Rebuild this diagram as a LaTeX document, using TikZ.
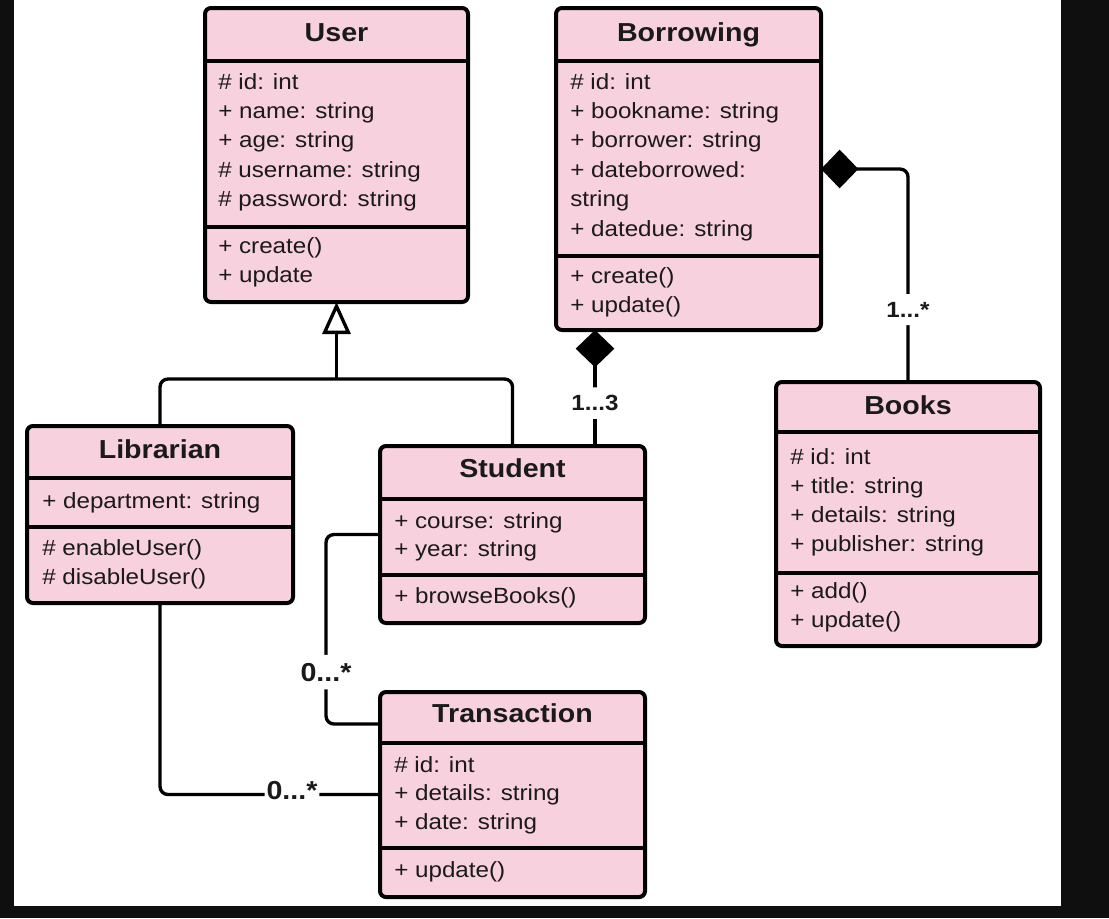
\documentclass[tikz,border=0pt]{standalone}
\usepackage{fontspec}
\setmainfont{Liberation Sans}[FakeStretch=1.1]
\usetikzlibrary{arrows.meta,fit,calc}
\definecolor{umlpink}{RGB}{248,209,222}
\definecolor{framedark}{RGB}{15,15,15}
\definecolor{ink}{RGB}{26,26,26}
\tikzset{
  classbox/.style={draw=black, fill=umlpink, line width=3pt, rounded corners=4.5pt, inner sep=0pt, outer sep=0pt},
  divider/.style={draw=black, line width=3pt},
  txt/.style={anchor=base west, inner sep=0pt, text=ink, font=\fontsize{16.5}{20}\selectfont},
  ctitle/.style={anchor=base, inner sep=0pt, text=ink, font=\fontsize{19.5}{24}\selectfont\bfseries},
  conn/.style={draw=black, line width=2.5pt, rounded corners=6pt},
  mult/.style={fill=white, text=ink, inner xsep=1.5pt, inner ysep=6pt, font=\fontsize{16.5}{20}\selectfont\bfseries},
  multbig/.style={mult, font=\fontsize{19.5}{24}\selectfont\bfseries},
  comp/.style={conn, {Diamond[length=28pt,width=29pt]}-},
  gen/.style={conn, -{Triangle[open,length=24pt,width=21pt]}},
}
\newcommand\clines[5]{\foreach \t [count=\i] in {#5}{\node[txt] (#1\i) at (#2,{#3+#4*(\i-1)}) {\t};}}
\begin{document}
\begin{tikzpicture}[x=0.75pt,y=-0.75pt]
\useasboundingbox (0,0) rectangle (1109,918);
\fill[framedark] (0,0) rectangle (1109,918);
\fill[white] (14,0) rectangle (1061,906);

% ---------- class boxes ----------
\node[classbox, fit={(205,8) (468,302)}] (user) {};
\node[classbox, fit={(556,8) (821,330)}] (bor) {};
\node[classbox, fit={(27,426) (293,603)}] (lib) {};
\node[classbox, fit={(380,446) (645,623)}] (stu) {};
\node[classbox, fit={(380,692) (645,897)}] (tr) {};
\node[classbox, fit={(776,382) (1040,646)}] (books) {};

% dividers
\draw[divider] (205,61) -- (468,61);
\draw[divider] (205,227) -- (468,227);
\draw[divider] (556,61) -- (821,61);
\draw[divider] (556,256) -- (821,256);
\draw[divider] (27,478) -- (293,478);
\draw[divider] (27,527) -- (293,527);
\draw[divider] (380,499) -- (645,499);
\draw[divider] (380,575) -- (645,575);
\draw[divider] (380,743) -- (645,743);
\draw[divider] (380,848) -- (645,848);
\draw[divider] (776,432) -- (1040,432);
\draw[divider] (776,573) -- (1040,573);

% titles
\node[ctitle] (user-t) at (336.5,41) {User};
\node[ctitle] (bor-t) at (688.5,41) {Borrowing};
\node[ctitle] (lib-t) at (160,458) {Librarian};
\node[ctitle] (stu-t) at (512.5,477) {Student};
\node[ctitle] (tr-t) at (512.5,722) {Transaction};
\node[ctitle] (books-t) at (908,414) {Books};

% attributes and methods
\clines{usera}{218}{89}{29.4}{\# id: int, + name: string, + age: string, \# username: string, \# password: string}
\clines{userm}{218}{253}{29.4}{+ create(), + update}
\clines{bora}{570}{89}{29.4}{\# id: int, + bookname: string, + borrower: string, + dateborrowed:, string, + datedue: string}
\clines{borm}{570}{283}{29.4}{+ create(), + update()}
\clines{liba}{42}{508}{29.4}{+ department: string}
\clines{libm}{42}{555}{29}{\# enableUser(), \# disableUser()}
\clines{stua}{394}{528}{28.5}{+ course: string, + year: string}
\clines{stum}{394}{603}{29.4}{+ browseBooks()}
\clines{tra}{394}{772}{28.5}{\# id: int, + details: string, + date: string}
\clines{trm}{394}{877}{29.4}{+ update()}
\clines{booksa}{790}{464}{29.2}{\# id: int, + title: string, + details: string, + publisher: string}
\clines{booksm}{790}{598}{29.6}{+ add(), + update()}

% ---------- connectors ----------
% generalization
\coordinate (gj) at ($(user.south)+(0,77)$);
\draw[conn] (lib.north) |- (gj) -| (stu.north);
\draw[gen] (gj) -- (user.south);

% composition Borrowing - Student
\coordinate (sc) at ($(stu.north east)+(-50,0)$);
\draw[comp] (bor.south -| sc) -- node[mult, pos=0.63] (m13) {1...3} (sc);

% composition Borrowing - Books
\draw[comp] (bor.east) -| node[mult, pos=0.83] (m1s) {1...*} (books.north);

% association Student - Transaction
\coordinate (stbend) at ($(stu.west)+(-54,0)$);
\coordinate (trin) at ($(tr.north west)+(0,32)$);
\draw[conn] (stu.west) -- (stbend) |- node[multbig, pos=0.363] (m0a) {0...*} (trin);

% association Librarian - Transaction
\draw[conn] (lib.south) |- node[multbig, pos=0.8, yshift=3pt] (m0b) {0...*} (tr.west);
\end{tikzpicture}
\end{document}
